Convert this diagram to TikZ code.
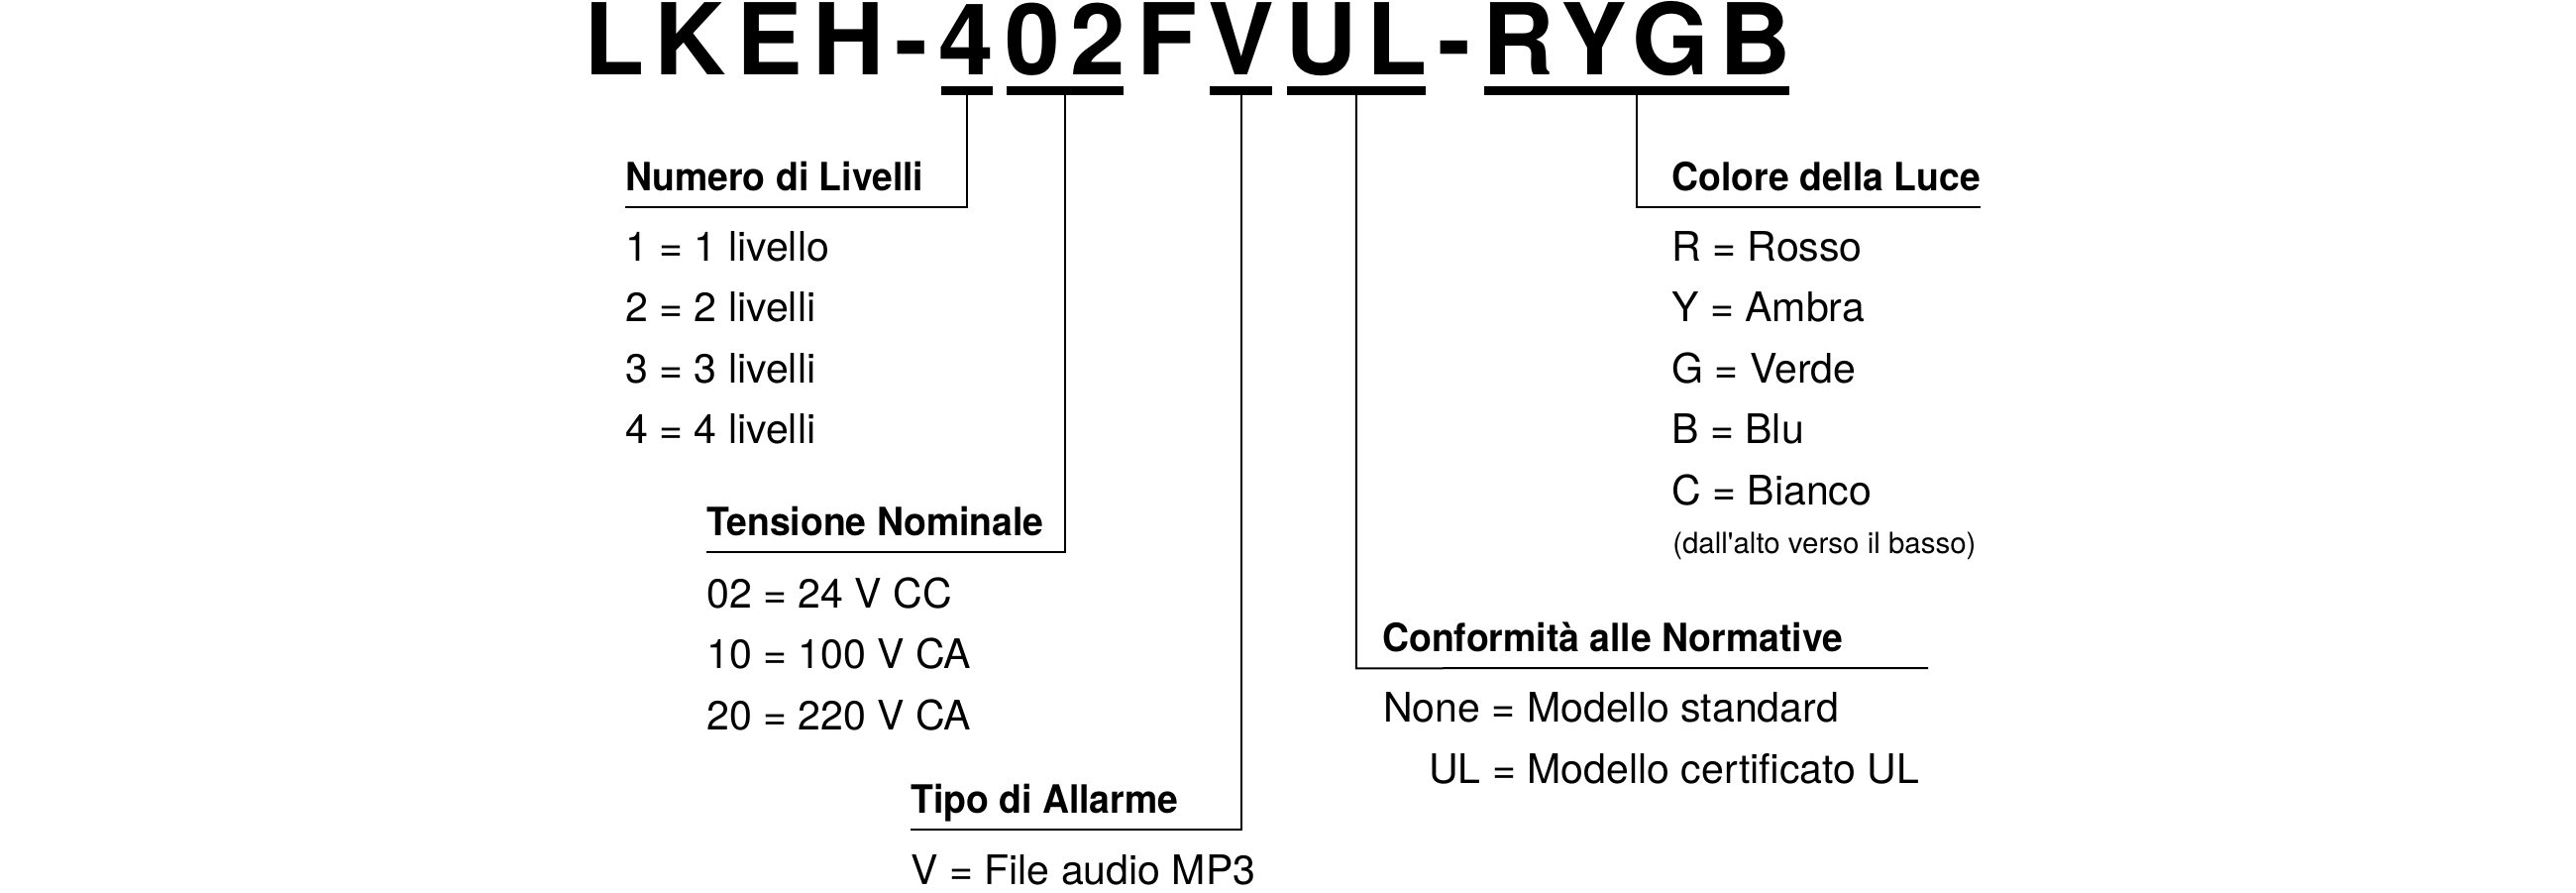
\documentclass[tikz,border=0pt]{standalone}
\usepackage{fontspec}
\setmainfont{TeX Gyre Heros}
\newfontfamily\codefont[LetterSpace=10.5]{TeX Gyre Heros}
\newfontfamily\headfont[FakeStretch=0.95]{TeX Gyre Heros}
\newfontfamily\notefont[Ligatures=TeXOff]{TeX Gyre Heros}

\tikzset{
  code/.style={anchor=base west, inner sep=0pt, font=\codefont\bfseries\fontsize{75}{75}\selectfont},
  nextcode/.style={code, xshift=7.875pt},
  head/.style={anchor=base west, inner xsep=0pt, inner ysep=12.75pt, text depth=0pt, font=\headfont\bfseries\fontsize{29.5}{34}\selectfont},
  entry/.style={anchor=base west, inner sep=0pt, font=\fontsize{30.8}{36}\selectfont},
  note/.style={anchor=base west, inner sep=0pt, font=\notefont\fontsize{22.1}{26}\selectfont},
  bar/.style={line width=6.4pt, shorten <=1.5pt, shorten >=1.5pt},
  lead/.style={line width=1.5pt},
}

\begin{document}
\begin{tikzpicture}[x=0.75pt,y=0.75pt,yscale=-1,xscale=1]
%set diagram size
\path (0,0) rectangle (2600,900);

% Code Text
\draw (589,75) node (tLKEH) [code] {LKEH-};
\node (t4) [nextcode] at (tLKEH.base east) {4};
\node (t02) [nextcode] at (t4.base east) {02};
\node (tF) [nextcode] at (t02.base east) {F};
\node (tV) [nextcode] at (tF.base east) {V};
\node (tUL) [nextcode] at (tV.base east) {UL};
\node (tDash) [nextcode] at (tUL.base east) {-};
\node (tRYGB) [nextcode] at (tDash.base east) {RYGB};

%Bars under the code
\draw [bar] (t4.base west |- 0,91.5) -- (t4.base east |- 0,91.5);
\draw [bar] (t02.base west |- 0,91.5) -- (t02.base east |- 0,91.5);
\draw [bar] (tV.base west |- 0,91.5) -- (tV.base east |- 0,91.5);
\draw [bar] (tUL.base west |- 0,91.5) -- (tUL.base east |- 0,91.5);
\draw [bar] (tRYGB.base west |- 0,91.5) -- (tRYGB.base east |- 0,91.5);
\coordinate (c4) at (t4.base |- 0,91.5);
\coordinate (c02) at (t02.base |- 0,91.5);
\coordinate (cV) at (tV.base |- 0,91.5);
\coordinate (cUL) at (tUL.base |- 0,91.5);
\coordinate (cRYGB) at (tRYGB.base |- 0,91.5);

% Numero di Livelli
\draw (631,192) node (hLvl) [head] {Numero di Livelli};
\draw (631,263) node (lvl1) [entry] {1 = 1 livello};
\draw (631,324.5) node (lvl2) [entry] {2 = 2 livelli};
\draw (631,386) node (lvl3) [entry] {3 = 3 livelli};
\draw (631,447.5) node (lvl4) [entry] {4 = 4 livelli};

% Tensione Nominale
\draw (713,540) node (hVolt) [head] {Tensione Nominale};
\draw (713,613) node (volt1) [entry] {02 = 24 V CC};
\draw (713,674.5) node (volt2) [entry] {10 = 100 V CA};
\draw (713,736) node (volt3) [entry] {20 = 220 V CA};

% Tipo di Allarme
\draw (919,820) node (hAlm) [head] {Tipo di Allarme};
\draw (919,892) node (alm1) [entry] {V = File audio MP3};

% Conformita alle Normative
\draw (1395,657) node (hNrm) [head] {Conformità alle Normative};
\draw (1396,728) node (nrm1) [entry] {None = Modello standard};
\draw (1442,790) node (nrm2) [entry] {UL = Modello certificato UL};
\coordinate (nrmEnd) at (1946,674);

% Colore della Luce
\draw (1687,192) node (hCol) [head] {Colore della Luce};
\draw (1687,263) node (col1) [entry] {R = Rosso};
\draw (1687,324.5) node (col2) [entry] {Y = Ambra};
\draw (1687,386) node (col3) [entry] {G = Verde};
\draw (1687,447.5) node (col4) [entry] {B = Blu};
\draw (1687,509) node (col5) [entry] {C = Bianco};
\draw (1688,558) node (colNote) [note] {(dall'alto verso il basso)};

%Leader lines
\draw [lead] (c4) |- (hLvl.south west);
\draw [lead] (c02) |- (hVolt.south west);
\draw [lead] (cV) |- (hAlm.south west);
\draw [lead] (cUL) |- (hNrm.south west) -- (nrmEnd);
\draw [lead] (cRYGB) |- (hCol.south east);

\end{tikzpicture}
\end{document}
